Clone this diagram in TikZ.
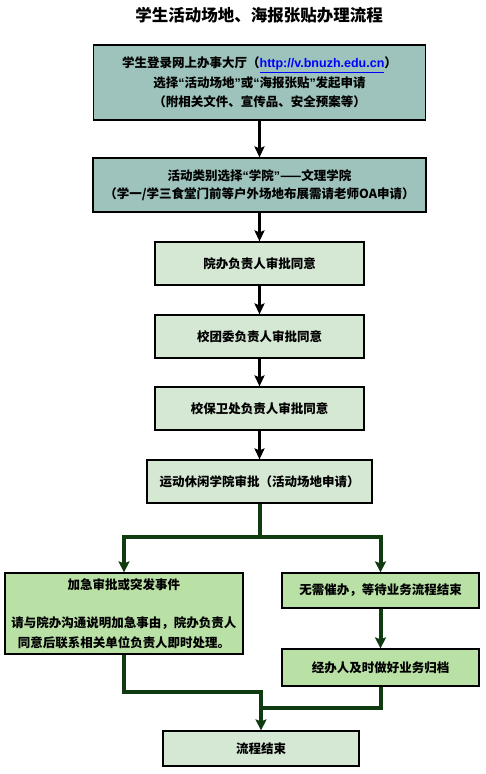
\documentclass[tikz,border=0pt]{standalone}
\usepackage{fontspec}
\setmainfont{Noto Sans CJK SC}
\newfontfamily\urlfont{Liberation Sans}
\newcommand{\lquo}{{\urlfont “}}
\newcommand{\rquo}{{\urlfont ”}}
\usetikzlibrary{arrows.meta}
\definecolor{teal1}{RGB}{157,195,188}
\definecolor{pale1}{RGB}{213,232,212}
\definecolor{green1}{RGB}{185,224,165}
\definecolor{dgreen}{RGB}{16,58,16}
\begin{document}
\begin{tikzpicture}[x=1pt,y=-1pt,
	every node/.style={font=\bfseries\fontsize{12.5}{19.5}\selectfont,align=center,inner sep=0pt},
	box/.style={draw,line width=1.2pt,rectangle},
	every edge/.style={draw,line width=3pt,-{Stealth[length=11pt,width=10pt,inset=2pt]}},
	gline/.style={draw=dgreen,line width=4pt},
	garrow/.style={gline,-{Stealth[length=11pt,width=11pt,inset=2pt]}}]
	\useasboundingbox (0,0) rectangle (485,774);
	\node (T) at (259,15) {\fontsize{16.5}{20}\selectfont 学生活动场地、海报张贴办理流程};
	\node[box,fill=teal1,minimum width=332pt,minimum height=75pt] (A) at (259.5,82.5)
		{学生登录网上办事大厅（{\urlfont\color{blue}\underline{http://v.bnuzh.edu.cn}}）\\选择\lquo 活动场地\rquo 或\lquo 海报张贴\rquo 发起申请\\（附相关文件、宣传品、安全预案等）};
	\node[box,fill=teal1,minimum width=333pt,minimum height=54pt,font=\bfseries\fontsize{12.5}{18}\selectfont] (B) at (259.5,185)
		{活动类别选择\lquo 学院\rquo ——文理学院\\（学一/学三食堂门前等户外场地布展需请老师OA申请）};
	\node[box,fill=pale1,minimum width=209pt,minimum height=43pt] (C) at (259.5,263.5) {院办负责人审批同意};
	\node[box,fill=pale1,minimum width=209pt,minimum height=43pt] (D) at (259.5,336.5) {校团委负责人审批同意};
	\node[box,fill=pale1,minimum width=209pt,minimum height=43pt] (E) at (259.5,408.5) {校保卫处负责人审批同意};
	\node[box,fill=pale1,minimum width=225pt,minimum height=43pt] (F) at (259.5,481.5) {运动休闲学院审批（活动场地申请）};
	\node[box,fill=green1,minimum width=238pt,minimum height=81pt] (G) at (124,613.5)
		{加急审批或突发事件\\[19pt]请与院办沟通说明加急事由，院办负责人\\同意后联系相关单位负责人即时处理。};
	\node[box,fill=green1,minimum width=197pt,minimum height=35pt] (H) at (380.5,590.5) {无需催办，等待业务流程结束};
	\node[box,fill=green1,minimum width=197pt,minimum height=37pt] (I) at (380.5,667.5) {经办人及时做好业务归档};
	\node[box,fill=pale1,minimum width=196pt,minimum height=35pt] (J) at (261,748.5) {流程结束};
	\path (A) edge (B);
	\path (B) edge (C);
	\path (C) edge (D);
	\path (D) edge (E);
	\path (E) edge (F);
	\coordinate (S) at (259.5,537);
	\coordinate (L) at (261,692);
	\coordinate (R) at (261,708);
	\draw[gline] (F) -- (S);
	\draw[garrow] (S) -| (G.north);
	\draw[garrow] (S) -| (H.north);
	\draw[garrow] (H) -- (I);
	\draw[gline] (I.south) |- (R);
	\draw[garrow] (G.south) |- (L) -- (J.north);
\end{tikzpicture}
\end{document}
